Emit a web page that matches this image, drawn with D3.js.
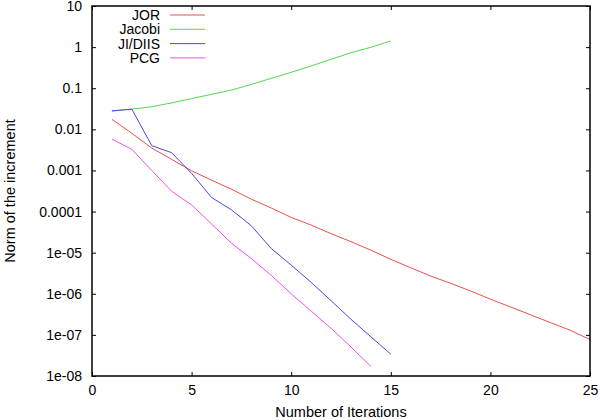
<!DOCTYPE html>
<html>
<head>
<meta charset="utf-8">
<script src="https://cdn.jsdelivr.net/npm/d3@7"></script>
<style>
  body { margin: 0; background: #fff; }
  svg { display: block; }
  .tick text { font-family: "Liberation Sans", Arial, sans-serif; font-size: 14px; fill: #000; }
  .axis-label { font-family: "Liberation Sans", Arial, sans-serif; font-size: 14.5px; fill: #000; }
  .legend text { font-family: "Liberation Sans", Arial, sans-serif; font-size: 14px; fill: #000; }
</style>
</head>
<body>
<script>
let iters = d3.range(1, 26);
let jorVals = [0.0175, 0.0080, 0.0035, 0.00186, 0.00098, 0.00058, 0.00035, 0.0002, 0.000122, 0.000072,
               0.000047, 0.000029, 0.0000185, 0.0000115, 0.0000069, 0.0000043, 0.0000027, 0.0000018,
               0.00000117, 0.00000074, 0.00000048, 0.00000031, 0.0000002, 0.00000013, 0.000000077];
let jacobiVals = [0.028, 0.031, 0.0355, 0.044, 0.056, 0.071, 0.090, 0.124, 0.174, 0.244, 0.347, 0.505, 0.73, 0.99, 1.41];
let diisVals = [0.028, 0.031, 0.0040, 0.0027, 0.00085, 0.00022, 0.00011, 0.000045, 0.0000126, 0.000005,
                0.0000019, 0.00000068, 0.00000024, 0.00000009, 0.000000034];
let pcgVals = [0.0058, 0.00326, 0.0010, 0.00031, 0.000145, 0.00005, 0.000017, 0.0000072, 0.0000028,
               0.000001, 0.00000038, 0.000000145, 0.000000051, 0.000000017];
let seriesNames = ['JOR', 'Jacobi', 'JI/DIIS', 'PCG'];
let seriesColors = ['#e8504a', '#50d850', '#4848e0', '#ec50ec'];
let xTicks = [0, 5, 10, 15, 20, 25];
let yTicks = [1e-8, 1e-7, 1e-6, 1e-5, 1e-4, 1e-3, 1e-2, 1e-1, 1, 10];
let yTickLabels = ['1e-08', '1e-07', '1e-06', '1e-05', '0.0001', '0.001', '0.01', '0.1', '1', '10'];

let width = 600, height = 420;
let padLeft = 92, padRight = 590, padTop = 6, padBottom = 376;

let svg = d3.select('body').append('svg')
    .attr('width', width)
    .attr('height', height);

let xScale = d3.scaleLinear().domain([0, 25]).range([padLeft, padRight]);
let yScale = d3.scaleLog().domain([1e-8, 10]).range([padBottom, padTop]);

let allSeries = [jorVals, jacobiVals, diisVals, pcgVals].map((vals, i) => ({
    name: seriesNames[i],
    color: seriesColors[i],
    points: vals.map((v, j) => [iters[j], v])
}));

let line = d3.line().x(d => xScale(d[0])).y(d => yScale(d[1]));

// lines
svg.append('g').selectAll('path')
    .data(allSeries)
    .enter()
    .append('path')
    .attr('d', d => line(d.points))
    .attr('fill', 'none')
    .attr('stroke', d => d.color)
    .attr('stroke-width', 1);

// axes (ticks pointing inward, like gnuplot)
let yAxis = d3.axisLeft(yScale).tickValues(yTicks)
    .tickFormat((d, i) => yTickLabels[i]).tickSizeInner(-4).tickSizeOuter(0).tickPadding(10);
svg.append('g').attr('transform', 'translate(' + padLeft + ',0)').call(yAxis);

let yAxisR = d3.axisRight(yScale).tickValues(yTicks).tickFormat('').tickSizeInner(-4).tickSizeOuter(0);
svg.append('g').attr('transform', 'translate(' + padRight + ',0)').call(yAxisR);

let xAxis = d3.axisBottom(xScale).tickValues(xTicks).tickSizeInner(-4).tickSizeOuter(0).tickPadding(9);
svg.append('g').attr('transform', 'translate(0,' + padBottom + ')').call(xAxis);

let xAxisT = d3.axisTop(xScale).tickValues(xTicks).tickFormat('').tickSizeInner(-4).tickSizeOuter(0);
svg.append('g').attr('transform', 'translate(0,' + padTop + ')').call(xAxisT);

svg.selectAll('.domain').remove();
svg.selectAll('.tick line').attr('stroke', '#000');

svg.append('rect')
    .attr('x', padLeft).attr('y', padTop)
    .attr('width', padRight - padLeft).attr('height', padBottom - padTop)
    .attr('fill', 'none').attr('stroke', '#000').attr('stroke-width', 1.5);

// axis titles
svg.append('text').attr('class', 'axis-label')
    .attr('x', (padLeft + padRight) / 2).attr('y', 417)
    .attr('text-anchor', 'middle')
    .text('Number of Iterations');

svg.append('text').attr('class', 'axis-label')
    .attr('transform', 'translate(15,' + (padTop + padBottom) / 2 + ') rotate(-90)')
    .attr('text-anchor', 'middle')
    .text('Norm of the increment');

// legend
let legend = svg.append('g').attr('class', 'legend');
let rows = legend.selectAll('g')
    .data(allSeries)
    .enter()
    .append('g')
    .attr('transform', (d, i) => 'translate(0,' + (15 + i * 14.3) + ')');
rows.append('text')
    .attr('x', 160).attr('y', 0).attr('dy', '0.35em')
    .attr('text-anchor', 'end')
    .text(d => d.name);
rows.append('line')
    .attr('x1', 170).attr('x2', 205)
    .attr('stroke', d => d.color).attr('stroke-width', 1);
</script>
</body>
</html>
